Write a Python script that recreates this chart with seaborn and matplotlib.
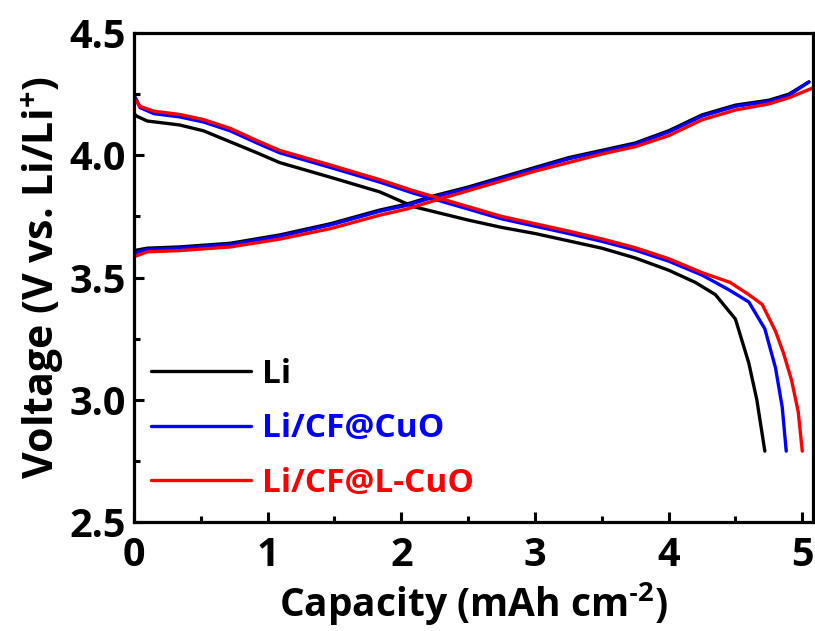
import matplotlib
matplotlib.use("Agg")
import matplotlib.pyplot as plt
import seaborn as sns
import pandas as pd

# ---- data ----
charge_x = [0, 0.1, 0.34, 0.72, 1.09, 1.47, 1.84, 2.04, 2.25, 2.5, 2.75,
            3.0, 3.25, 3.5, 3.75, 4.0, 4.25, 4.5, 4.75, 4.9, 5.05]
charge_x_lcuo = [0, 0.1, 0.34, 0.72, 1.09, 1.47, 1.84, 2.04, 2.25, 2.5, 2.75,
                 3.0, 3.25, 3.5, 3.75, 4.0, 4.25, 4.5, 4.75, 4.9, 5.1]
li_charge = [3.61, 3.62, 3.625, 3.64, 3.674, 3.72, 3.776, 3.80, 3.835, 3.87, 3.91,
             3.95, 3.99, 4.02, 4.05, 4.10, 4.165, 4.205, 4.225, 4.25, 4.30]
cuo_charge = [3.60, 3.615, 3.62, 3.635, 3.669, 3.715, 3.771, 3.795, 3.83, 3.865, 3.905,
              3.945, 3.985, 4.015, 4.045, 4.095, 4.16, 4.20, 4.22, 4.245, 4.30]
lcuo_charge = [3.585, 3.605, 3.61, 3.625, 3.657, 3.70, 3.755, 3.78, 3.815, 3.855, 3.895,
               3.935, 3.97, 4.005, 4.035, 4.08, 4.145, 4.185, 4.21, 4.235, 4.28]

li_dis_x = [0, 0.02, 0.1, 0.34, 0.52, 0.72, 0.92, 1.09, 1.47, 1.84, 2.09, 2.5, 2.75, 3.0,
            3.25, 3.5, 3.75, 4.0, 4.2, 4.35, 4.5, 4.6, 4.66, 4.7, 4.72]
li_dis = [4.17, 4.16, 4.14, 4.124, 4.10, 4.055, 4.01, 3.97, 3.91, 3.85, 3.79, 3.735, 3.705, 3.68,
          3.65, 3.62, 3.58, 3.53, 3.48, 3.43, 3.33, 3.15, 3.0, 2.86, 2.79]
cuo_dis_x = [0, 0.02, 0.045, 0.15, 0.34, 0.52, 0.72, 0.92, 1.09, 1.47, 1.84, 2.09, 2.5, 2.75, 3.0,
             3.25, 3.5, 3.75, 4.0, 4.25, 4.45, 4.6, 4.72, 4.8, 4.85, 4.88]
cuo_dis = [4.245, 4.226, 4.195, 4.17, 4.157, 4.136, 4.10, 4.05, 4.01, 3.95, 3.89, 3.845, 3.78, 3.74, 3.71,
           3.68, 3.648, 3.612, 3.567, 3.51, 3.45, 3.40, 3.29, 3.13, 2.97, 2.79]
lcuo_dis_x = [0, 0.02, 0.045, 0.15, 0.34, 0.52, 0.72, 0.92, 1.09, 1.47, 1.84, 2.09, 2.5, 2.75, 3.0,
              3.25, 3.5, 3.75, 4.0, 4.25, 4.46, 4.6, 4.7, 4.8, 4.86, 4.92, 4.97, 5.0]
lcuo_dis = [4.23, 4.22, 4.20, 4.18, 4.167, 4.146, 4.11, 4.06, 4.02, 3.96, 3.90, 3.855, 3.79, 3.75, 3.72,
            3.69, 3.658, 3.622, 3.577, 3.52, 3.48, 3.43, 3.39, 3.28, 3.19, 3.08, 2.95, 2.79]

labels = ["Li", "Li/CF@CuO", "Li/CF@L-CuO"]
colors = ["black", "#0000ff", "#ff0000"]

curves = [
    (labels[0], charge_x, li_charge), (labels[0], li_dis_x, li_dis),
    (labels[1], charge_x, cuo_charge), (labels[1], cuo_dis_x, cuo_dis),
    (labels[2], charge_x_lcuo, lcuo_charge), (labels[2], lcuo_dis_x, lcuo_dis),
]

sns.set_style("ticks", {"axes.edgecolor": "black", "text.color": "black",
                        "axes.labelcolor": "black", "xtick.color": "black",
                        "ytick.color": "black"})
plt.rcParams['font.family'] = ['Open Sans', 'DejaVu Sans']
plt.rcParams['font.weight'] = 'bold'
plt.rcParams['mathtext.fontset'] = 'custom'
plt.rcParams['mathtext.bf'] = 'Open Sans:bold'
plt.rcParams['mathtext.rm'] = 'Open Sans:bold'

fig = plt.figure(figsize=(8.15, 6.31), dpi=100)
ax = fig.add_axes([0.1644, 0.1727, 0.8331, 0.775])

cmap = dict(zip(labels, colors))
for i, (lab, xs, ys) in enumerate(curves):
    df = pd.DataFrame({"x": xs, "y": ys})
    sns.lineplot(data=df, x="x", y="y", sort=False, estimator=None, color=cmap[lab],
                 lw=2.4, ax=ax, label=lab if i % 2 == 0 else None)

ax.set_xlim(0, 5.08)
ax.set_ylim(2.5, 4.5)
ax.set_xticks([0, 1, 2, 3, 4, 5])
ax.set_xticks([0.5, 1.5, 2.5, 3.5, 4.5], minor=True)
ax.set_yticks([2.5, 3.0, 3.5, 4.0, 4.5])
ax.set_yticklabels(["2.5", "3.0", "3.5", "4.0", "4.5"])
ax.set_yticks([2.75, 3.25, 3.75, 4.25], minor=True)
ax.tick_params(which='both', direction='in', width=2.2, labelsize=28.5)
ax.tick_params(axis='x', pad=10)
ax.tick_params(axis='y', pad=6)
ax.tick_params(which='major', length=7)
ax.tick_params(which='minor', length=4)
for lbl in ax.get_xticklabels() + ax.get_yticklabels():
    lbl.set_fontweight('bold')
for s in ax.spines.values():
    s.set_linewidth(2.3)

ax.set_xlabel("Capacity (mAh cm$^{\\mathbf{\u2010}\\mathbf{2}}$)", fontsize=28, fontweight='bold', labelpad=4)
ax.set_ylabel("Voltage (V vs. Li/Li$^{\\mathbf{+}}$)", fontsize=29.5, fontweight='bold', labelpad=2)

leg = ax.legend(loc='lower left', bbox_to_anchor=(0.025, 0.046), frameon=False, fontsize=24,
                handlelength=3.0, handletextpad=0.33, labelspacing=0.64, labelcolor='linecolor',
                borderaxespad=0, borderpad=0)
for t in leg.get_texts():
    t.set_fontweight('bold')

fig.savefig("out.png", dpi=100)
